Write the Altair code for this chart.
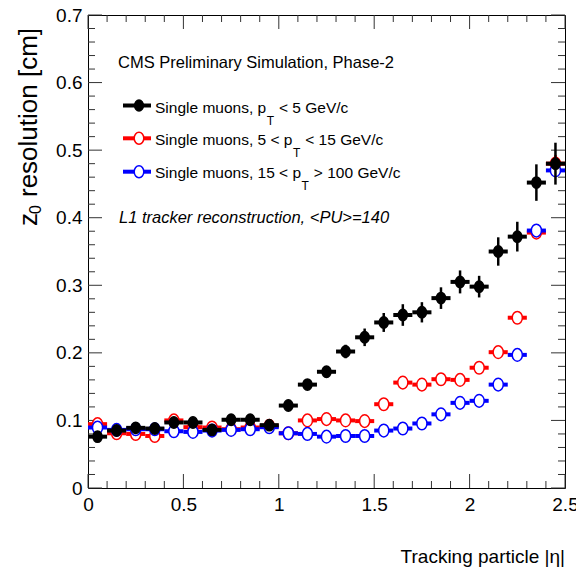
import altair as alt
import pandas as pd

# ---------------- data ----------------
eta = [0.05, 0.15, 0.25, 0.35, 0.45, 0.55, 0.65, 0.75, 0.85, 0.95,
       1.05, 1.15, 1.25, 1.35, 1.45, 1.55, 1.65, 1.75, 1.85, 1.95,
       2.05, 2.15, 2.25, 2.35, 2.45]
bin_half = 0.05

black_val = [0.076, 0.085, 0.089, 0.088, 0.097, 0.097, 0.086, 0.101, 0.101, 0.093,
             0.122, 0.153, 0.172, 0.202, 0.223, 0.245, 0.256, 0.260, 0.281, 0.305,
             0.298, 0.350, 0.372, 0.452, 0.480]
black_err = [0.004, 0.004, 0.004, 0.004, 0.004, 0.004, 0.004, 0.004, 0.004, 0.004,
             0.005, 0.006, 0.008, 0.010, 0.013, 0.014, 0.016, 0.015, 0.016, 0.017,
             0.016, 0.021, 0.022, 0.027, 0.031]

red_val = [0.0945, 0.081, 0.080, 0.077, 0.100, 0.090, 0.0895, 0.087, 0.0895, 0.092,
           0.081, 0.100, 0.102, 0.100, 0.099, 0.124, 0.156, 0.153, 0.161, 0.160,
           0.178, 0.201, 0.252, 0.378, 0.480]
red_err = [0.002, 0.002, 0.002, 0.002, 0.002, 0.002, 0.002, 0.002, 0.002, 0.002,
           0.002, 0.002, 0.002, 0.002, 0.002, 0.003, 0.003, 0.003, 0.003, 0.003,
           0.003, 0.004, 0.005, 0.007, 0.013]

blue_val = [0.0895, 0.086, 0.087, 0.087, 0.084, 0.083, 0.085, 0.086, 0.087, 0.090,
            0.081, 0.080, 0.076, 0.077, 0.077, 0.085, 0.088, 0.0955, 0.109, 0.126,
            0.129, 0.153, 0.197, 0.381, 0.470]
blue_err = [0.002, 0.002, 0.002, 0.002, 0.002, 0.002, 0.002, 0.002, 0.002, 0.002,
            0.002, 0.002, 0.002, 0.002, 0.002, 0.002, 0.002, 0.002, 0.002, 0.002,
            0.002, 0.003, 0.003, 0.005, 0.008]

x_major = [0, 0.5, 1, 1.5, 2, 2.5]
x_minor = [0.1, 0.2, 0.3, 0.4, 0.6, 0.7, 0.8, 0.9, 1.1, 1.2, 1.3, 1.4,
           1.6, 1.7, 1.8, 1.9, 2.1, 2.2, 2.3, 2.4]
y_major = [0, 0.1, 0.2, 0.3, 0.4, 0.5, 0.6, 0.7]
y_minor = [0.02, 0.04, 0.06, 0.08, 0.12, 0.14, 0.16, 0.18, 0.22, 0.24, 0.26, 0.28,
           0.32, 0.34, 0.36, 0.38, 0.42, 0.44, 0.46, 0.48, 0.52, 0.54, 0.56, 0.58,
           0.62, 0.64, 0.66, 0.68]

cms_text = "CMS Preliminary Simulation, Phase-2"
reco_text = "L1 tracker reconstruction, <PU>=140"
legend_pre = ["Single muons, p", "Single muons, 5 < p", "Single muons, 15 < p"]
legend_post = ["< 5 GeV/c", "< 15 GeV/c", "> 100 GeV/c"]
x_title = "Tracking particle |η|"
y_title = "resolution [cm]"

# ---------------- style ----------------
W, H = 477, 473
FONT = "Liberation Sans, Arial, sans-serif"
TICK_C = "#333333"
ELLIPSE = "M0,-1A0.8,1,0,1,1,0,1A0.8,1,0,1,1,0,-1Z"

# approximate Liberation Sans advance widths (per 1000 em) for laying out the legend
ADV = {"S": 667, "i": 222, "n": 556, "g": 556, "l": 222, "e": 556, " ": 278,
       "m": 833, "u": 556, "o": 556, "s": 500, ",": 278, "p": 556, "5": 556,
       "<": 584, "1": 556, ">": 584, "0": 556, "G": 778, "V": 667, "/": 278,
       "c": 500, "T": 611}


def text_width(t, size):
    return sum(ADV.get(ch, 556) for ch in t) * size / 1000.0


xs = alt.Scale(domain=[0, 2.5], nice=False, zero=False)
ys = alt.Scale(domain=[0, 0.7], nice=False, zero=False)
xaxis = alt.Axis(values=x_major, ticks=False, domain=False, grid=False, title=None,
                 labelFont=FONT, labelFontSize=19, labelColor="black",
                 labelPadding=7, labelFlush=False, labelOverlap=False,
                 labelExpr="format(datum.value, '~g')")
yaxis = alt.Axis(values=y_major, ticks=False, domain=False, grid=False, title=None,
                 labelFont=FONT, labelFontSize=19, labelColor="black",
                 labelPadding=6, labelFlush=False, labelOverlap=False,
                 labelExpr="datum.value == 0 ? '0' : format(datum.value, '.1f')")


def X(f):
    return alt.X(f, type="quantitative", scale=xs, axis=xaxis)


def Y(f):
    return alt.Y(f, type="quantitative", scale=ys, axis=yaxis)


def series(vals, errs, color, fill, size):
    df = pd.DataFrame({
        "eta": eta,
        "lo": [e - bin_half for e in eta],
        "hi": [e + bin_half for e in eta],
        "val": vals,
        "ylo": [v - e for v, e in zip(vals, errs)],
        "yhi": [v + e for v, e in zip(vals, errs)],
    })
    base = alt.Chart(df)
    hbar = base.mark_rule(color=color, strokeWidth=4).encode(x=X("lo"), x2="hi", y=Y("val"))
    vbar = base.mark_rule(color=color, strokeWidth=2.5).encode(x=X("eta"), y=Y("ylo"), y2="yhi")
    pts = base.mark_point(shape=ELLIPSE, filled=True, fill=fill, stroke=color,
                          strokeWidth=1.5, size=size, opacity=1).encode(x=X("eta"), y=Y("val"))
    return [hbar, vbar, pts]


def ticks_x(vals, length, top):
    df = pd.DataFrame({"v": vals})
    if top:
        return alt.Chart(df).mark_rule(color=TICK_C, strokeWidth=1).encode(
            x=X("v"), y=alt.value(0), y2=alt.value(length))
    return alt.Chart(df).mark_rule(color=TICK_C, strokeWidth=1).encode(
        x=X("v"), y=alt.value(H), y2=alt.value(H - length))


def ticks_y(vals, length, right):
    df = pd.DataFrame({"v": vals})
    if right:
        return alt.Chart(df).mark_rule(color=TICK_C, strokeWidth=1).encode(
            y=Y("v"), x=alt.value(W), x2=alt.value(W - length))
    return alt.Chart(df).mark_rule(color=TICK_C, strokeWidth=1).encode(
        y=Y("v"), x=alt.value(0), x2=alt.value(length))


def text(t, x, y, size, align="left", baseline="alphabetic", angle=0,
         style="normal", font=FONT):
    kw = dict(align=align, baseline=baseline, fontSize=size, font=font,
              fontStyle=style, color="black")
    if angle:
        kw["angle"] = angle
    return alt.Chart(pd.DataFrame({"t": [t]})).mark_text(**kw).encode(
        x=alt.value(x), y=alt.value(y), text="t:N")


layers = []
layers += [ticks_x(x_major, 14, False), ticks_x(x_minor, 7, False),
           ticks_x(x_major, 14, True), ticks_x(x_minor, 7, True),
           ticks_y(y_major, 14, False), ticks_y(y_minor, 7, False),
           ticks_y(y_major, 14, True), ticks_y(y_minor, 7, True)]
layers += series(red_val, red_err, "#ff0000", "white", 160)
layers += series(blue_val, blue_err, "#0000ff", "white", 160)
layers += series(black_val, black_err, "black", "black", 130)

# legend
LEG_FS = 15.5
SUB_FS = 12
leg_colors = ["black", "#ff0000", "#0000ff"]
leg_fill = ["black", "white", "white"]
leg_y = [90.5, 123.3, 156.7]
leg_base = [97.5, 129.5, 163.0]
leg_x0 = 67
for i in range(3):
    dummy = alt.Chart(pd.DataFrame({"a": [0]}))
    layers.append(dummy.mark_rule(color=leg_colors[i], strokeWidth=4).encode(
        x=alt.value(35), x2=alt.value(63), y=alt.value(leg_y[i])))
    layers.append(dummy.mark_point(shape=ELLIPSE, filled=True, fill=leg_fill[i],
                                   stroke=leg_colors[i], strokeWidth=1.5,
                                   size=120 if i == 0 else 144, opacity=1).encode(
        x=alt.value(51), y=alt.value(leg_y[i])))
    xt = leg_x0 + text_width(legend_pre[i], LEG_FS) + 0.5
    xp = xt + text_width("T", SUB_FS) + 5
    layers.append(text(legend_pre[i], leg_x0, leg_base[i], LEG_FS))
    layers.append(text("T", xt, leg_base[i] + 12, SUB_FS))
    layers.append(text(legend_post[i], xp, leg_base[i], LEG_FS))

layers.append(text(cms_text, 30, 53.3, 16.5))
layers.append(text(reco_text, 31, 208.3, 16.5, style="italic"))
layers.append(text(x_title, W, 548, 19, align="right"))
layers.append(text("z", -51, 211, 26, angle=270))
layers.append(text("0", -47, 199, 16, angle=270))
layers.append(text(y_title, -51, 182, 26, angle=270))

chart = alt.layer(*layers).properties(
    width=W, height=H,
    padding={"left": 88, "top": 15, "right": 11, "bottom": 81},
    autosize=alt.AutoSizeParams(type="none"),
    background="white",
).configure_view(stroke="black", strokeWidth=1)

chart.save("out.html", embed_options={"renderer": "svg", "actions": False})
